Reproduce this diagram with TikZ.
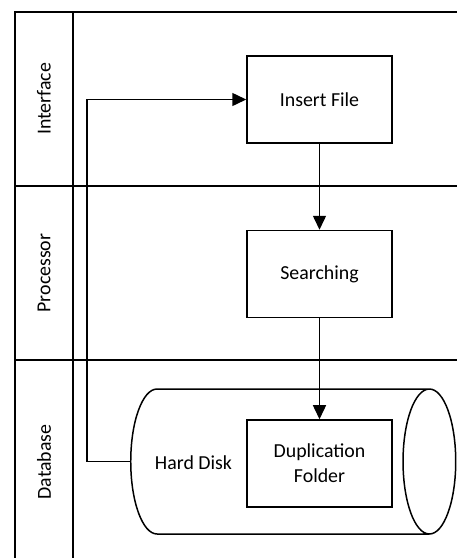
\documentclass[tikz,border=0pt]{standalone}
\usepackage{fontspec}
\setmainfont{Carlito}
\usepackage{tikz}
\usetikzlibrary{arrows.meta,positioning,shapes.geometric}

\begin{document}
\begin{tikzpicture}[
    font=\fontsize{11.3}{14.2}\selectfont,
    lane/.style={draw=black, line width=0.85pt},
    lanelabel/.style={rotate=90, anchor=center},
    proc/.style={draw=black, line width=0.85pt, minimum width=2.9cm, minimum height=1.74cm,
                 align=center, fill=white},
    disk/.style={draw=black, line width=0.85pt, shape=cylinder, aspect=4.5,
                 minimum width=2.9cm, minimum height=6.5cm},
    flow/.style={-{Triangle[length=0.28cm,width=0.26cm]}, line width=0.85pt, black}
]
\useasboundingbox (0,0) rectangle (9.14,-11.16);

% Swimlanes
\draw[lane] (0.3,-11.16) -- (0.3,-0.24) -- (9.14,-0.24);
\draw[lane] (1.46,-0.24) -- (1.46,-11.16);
\draw[lane] (0.3,-3.72) -- (9.14,-3.72);
\draw[lane] (0.3,-7.2) -- (9.14,-7.2);

\node[lanelabel] (lInterface) at (0.88,-1.98) {Interface};
\node[lanelabel] (lProcessor) at (0.88,-5.46) {Processor};
\node[lanelabel] (lDatabase) at (0.88,-9.24) {Database};

% Storage
\node[disk] (hdd) at (5.49,-9.23) {};
\node (hddtext) at (3.87,-9.26) {Hard Disk};

% Steps
\node[proc] (insert) at (6.39,-1.99) {Insert File};
\node[proc, below=1.72cm of insert] (search) {Searching};
\node[proc, below=2.02cm of search] (dupl) {Duplication\\Folder};

% Flow
\coordinate (back) at (1.74,-9.23);
\draw[flow] (insert) -- (search);
\draw[flow] (search) -- (dupl);
\draw[flow] (hdd.west) -- (back) |- (insert.west);

\end{tikzpicture}
\end{document}
